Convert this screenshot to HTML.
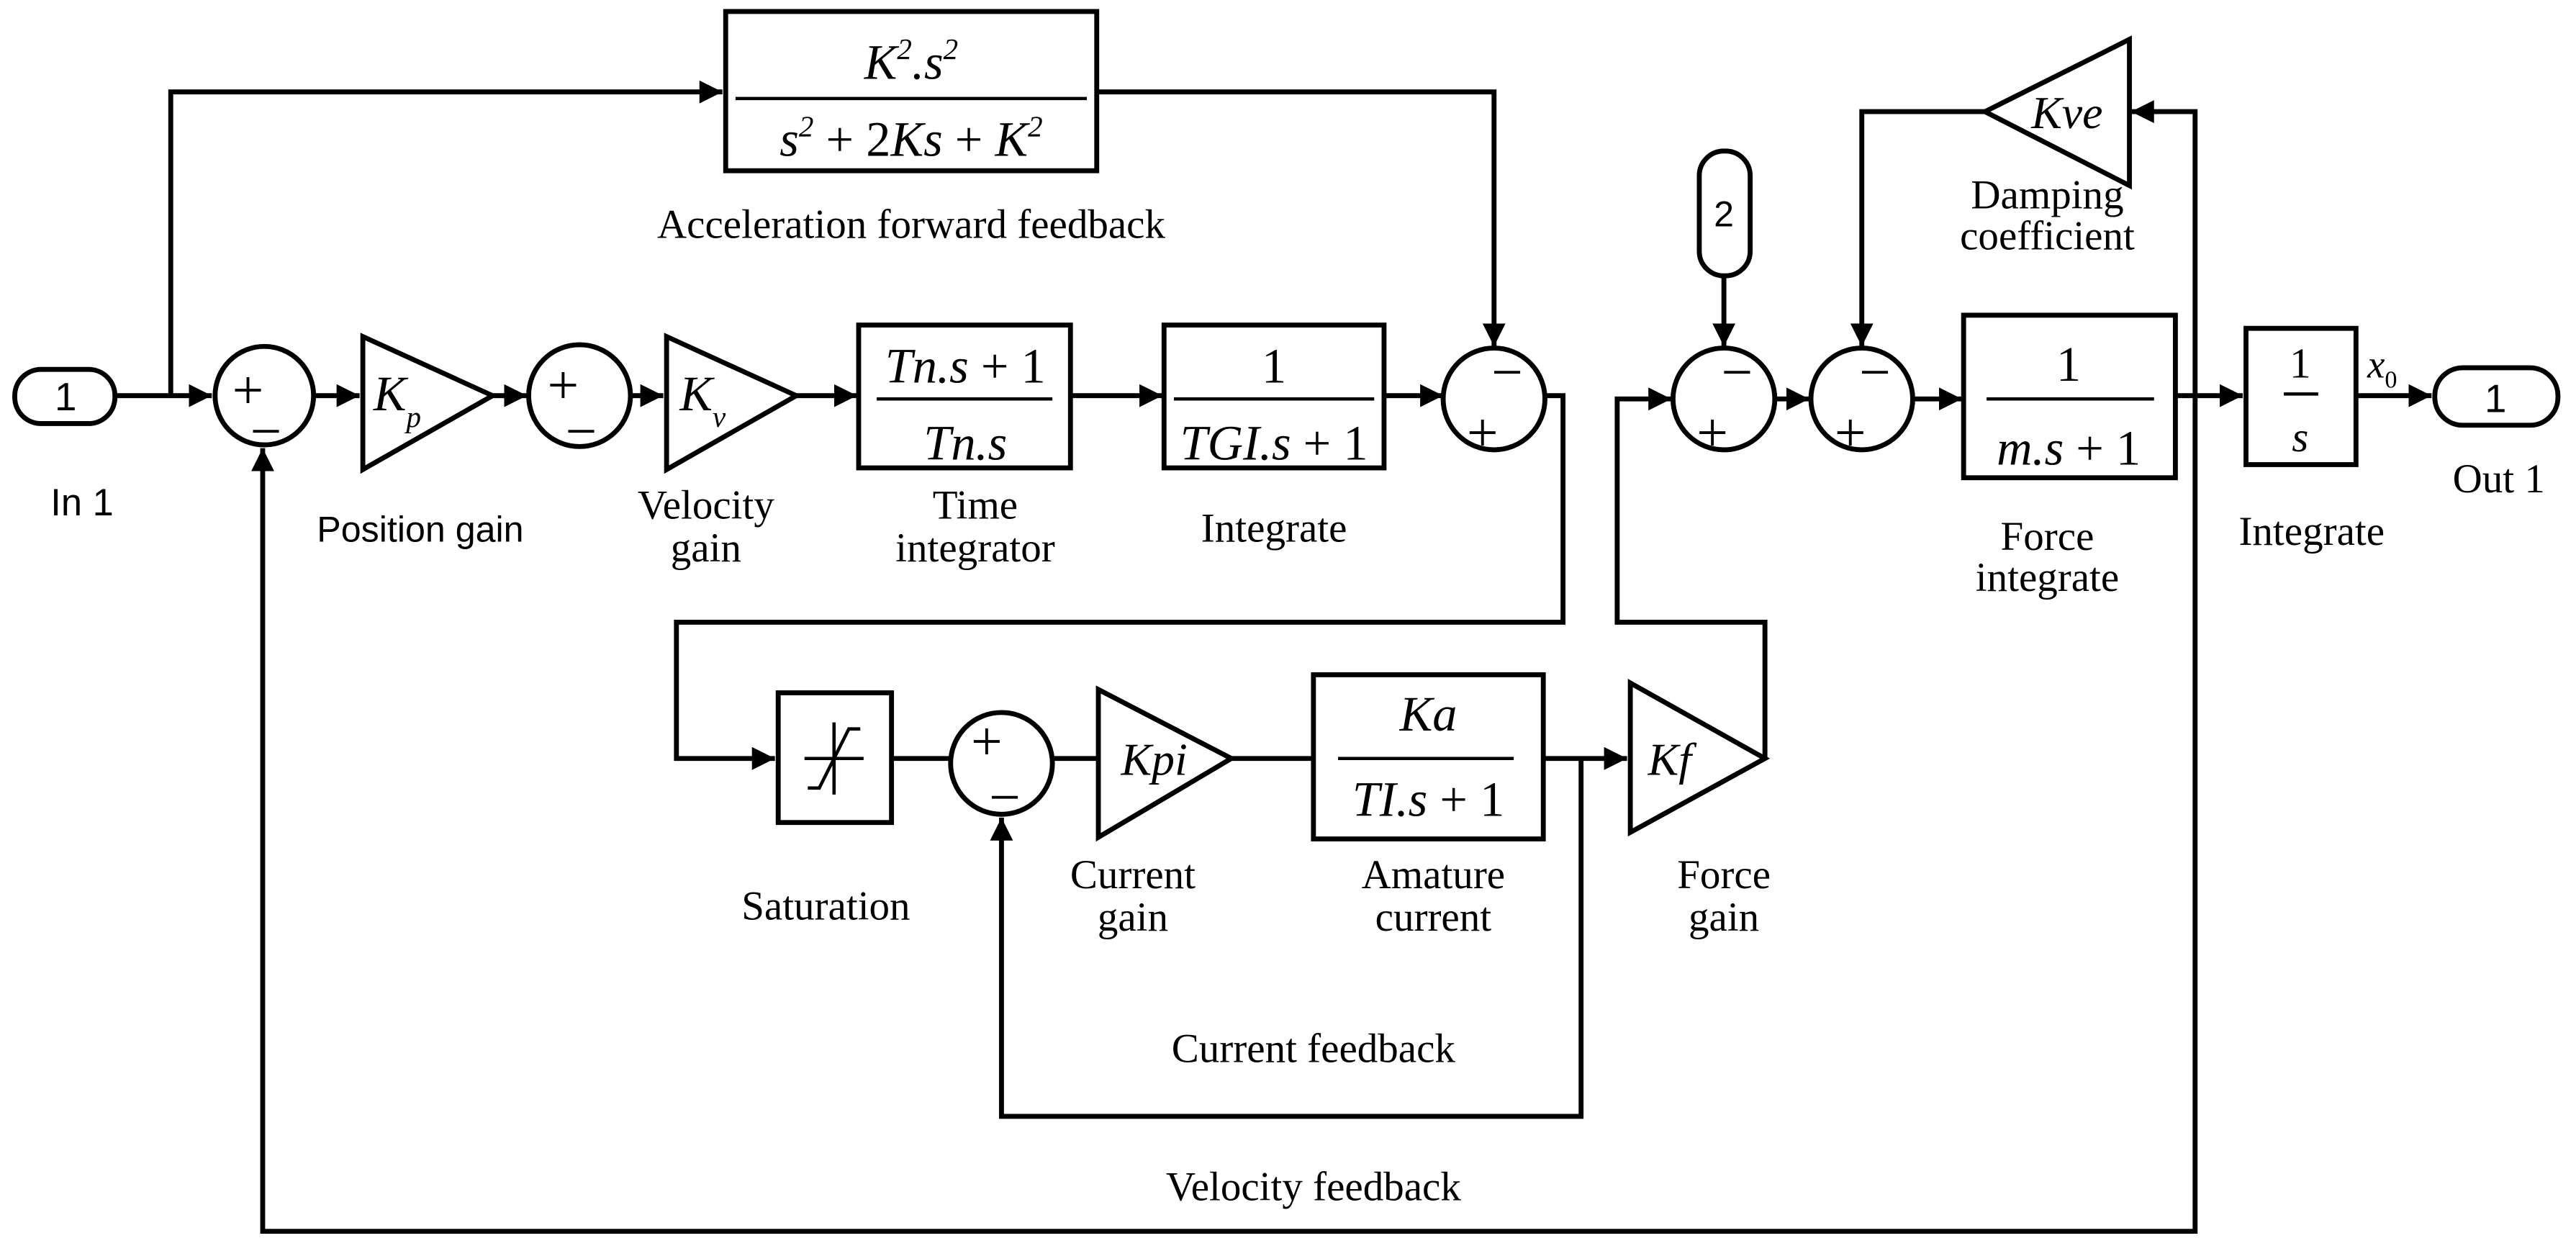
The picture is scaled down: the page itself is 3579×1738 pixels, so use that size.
<!DOCTYPE html>
<html><head><meta charset="utf-8"><style>
html,body{margin:0;padding:0;background:#fff;}
svg{display:block;}
text{font-family:"Liberation Serif",serif;fill:#000;}
.s{font-family:"Liberation Sans",sans-serif;}
.i{font-style:italic;}
</style></head><body>
<svg width="3579" height="1738" viewBox="0 0 1569 762" preserveAspectRatio="none" xmlns="http://www.w3.org/2000/svg">
<defs>
<marker id="a" markerUnits="userSpaceOnUse" markerWidth="16" markerHeight="16" refX="14" refY="7" orient="auto">
<path d="M0,0 L14,7 L0,14 z" fill="#000"/></marker>
</defs>
<g fill="none" stroke="#000" stroke-width="3">
<rect x="9" y="225" width="61" height="33" rx="16"/>
<line x1="70" y1="241" x2="129" y2="241" marker-end="url(#a)"/>
<polyline points="104,241 104,56 440,56" marker-end="url(#a)"/>
<rect x="442" y="7" width="226" height="97"/>
<line x1="448" y1="60" x2="662" y2="60" stroke-width="2"/>
<polyline points="668,56 910,56 910,211" marker-end="url(#a)"/>
<circle cx="161" cy="241" r="30"/>
<line x1="191" y1="241" x2="219" y2="241" marker-end="url(#a)"/>
<polygon points="221,205 300,241 221,286"/>
<line x1="300" y1="241" x2="321" y2="241" marker-end="url(#a)"/>
<circle cx="353" cy="241" r="31"/>
<line x1="384" y1="241" x2="404" y2="241" marker-end="url(#a)"/>
<polygon points="406,205 485,241 406,286"/>
<line x1="485" y1="241" x2="522" y2="241" marker-end="url(#a)"/>
<rect x="523" y="198" width="129" height="87"/>
<line x1="534" y1="243" x2="641" y2="243" stroke-width="2"/>
<line x1="652" y1="241" x2="708" y2="241" marker-end="url(#a)"/>
<rect x="709" y="198" width="134" height="87"/>
<line x1="715" y1="243" x2="837" y2="243" stroke-width="2"/>
<line x1="843" y1="241" x2="879" y2="241" marker-end="url(#a)"/>
<circle cx="910" cy="243" r="31"/>
<polyline points="941,241 952,241 952,379 412,379 412,462 472,462" marker-end="url(#a)"/>
<rect x="474" y="422" width="69" height="79"/>
<line x1="508" y1="440" x2="508" y2="484" stroke-width="2"/>
<polyline points="492,480 499,480 517,444 524,444" stroke-width="2"/>
<line x1="490" y1="462" x2="526" y2="462" stroke-width="2"/>
<line x1="543" y1="462" x2="579" y2="462"/>
<circle cx="610" cy="465" r="31"/>
<line x1="641" y1="462" x2="668" y2="462"/>
<polygon points="669,420 750,462 669,510"/>
<line x1="750" y1="462" x2="800" y2="462"/>
<rect x="800" y="411" width="140" height="100"/>
<line x1="815" y1="462" x2="922" y2="462" stroke-width="2"/>
<line x1="940" y1="462" x2="991" y2="462" marker-end="url(#a)"/>
<polyline points="963,462 963,680 610,680 610,498" marker-end="url(#a)"/>
<polygon points="993,416 1075,462 993,507"/>
<polyline points="1075,462 1075,379 985,379 985,243 1018,243" marker-end="url(#a)"/>
<rect x="1035" y="92" width="31" height="76" rx="15"/>
<line x1="1050" y1="168" x2="1050" y2="211" marker-end="url(#a)"/>
<circle cx="1050" cy="243" r="31"/>
<line x1="1081" y1="243" x2="1102" y2="243" marker-end="url(#a)"/>
<circle cx="1134" cy="243" r="31"/>
<line x1="1165" y1="243" x2="1195" y2="243" marker-end="url(#a)"/>
<rect x="1196" y="192" width="129" height="99"/>
<line x1="1210" y1="243" x2="1312" y2="243" stroke-width="2"/>
<line x1="1325" y1="241" x2="1366" y2="241" marker-end="url(#a)"/>
<rect x="1368" y="200" width="67" height="83"/>
<line x1="1391" y1="240" x2="1412" y2="240" stroke-width="2"/>
<line x1="1435" y1="241" x2="1481" y2="241" marker-end="url(#a)"/>
<rect x="1483" y="224" width="75" height="35" rx="17"/>
<polyline points="1337,241 1337,68 1298,68" marker-end="url(#a)"/>
<polygon points="1297,24 1209,68 1297,113"/>
<polyline points="1209,68 1134,68 1134,211" marker-end="url(#a)"/>
<polyline points="1337,241 1337,750 160,750 160,273" marker-end="url(#a)"/>
</g>
<g font-family="Liberation Sans" font-size="34" text-anchor="middle">
<text x="151" y="249">+</text><text x="162" y="274">−</text>
<text x="343" y="246">+</text><text x="354" y="274">−</text>
<text x="918" y="238">−</text><text x="903" y="275">+</text>
<text x="1058" y="238">−</text><text x="1043" y="275">+</text>
<text x="1142" y="238">−</text><text x="1127" y="275">+</text>
<text x="601" y="463">+</text><text x="612" y="497">−</text>
</g>
<g class="i" font-size="30" text-anchor="middle">
<text x="555" y="48">K<tspan font-size="18" dy="-12">2</tspan><tspan dy="12">.s</tspan><tspan font-size="18" dy="-12">2</tspan></text>
<text x="555" y="95">s<tspan font-size="18" dy="-12">2</tspan><tspan dy="12" font-style="normal"> + 2</tspan>Ks<tspan font-style="normal"> + </tspan>K<tspan font-size="18" dy="-12">2</tspan></text>
<text x="242" y="250">K<tspan font-size="18" dy="10">p</tspan></text>
<text x="428" y="250">K<tspan font-size="18" dy="10">v</tspan></text>
<text x="588" y="233">Tn.s<tspan font-style="normal"> + 1</tspan></text>
<text x="588" y="280">Tn.s</text>
<text x="776" y="233" font-style="normal">1</text>
<text x="776" y="280">TGI.s<tspan font-style="normal"> + 1</tspan></text>
<text x="703" y="472" font-size="28">Kpi</text>
<text x="870" y="445">Ka</text>
<text x="870" y="497">TI.s<tspan font-style="normal"> + 1</tspan></text>
<text x="1017" y="472" font-size="28">Kf</text>
<text x="1259" y="78" font-size="28">Kve</text>
<text x="1260" y="232" font-style="normal">1</text>
<text x="1260" y="283">m.s<tspan font-style="normal"> + 1</tspan></text>
<text x="1401" y="230" font-style="normal" font-size="26">1</text>
<text x="1401" y="275" font-size="26">s</text>
<text x="1451" y="230" font-size="24">x<tspan font-size="15" dy="6" font-style="normal">0</tspan></text>
</g>
<g font-size="24" text-anchor="middle">
<text x="40" y="250" class="s">1</text>
<text x="1520" y="251" class="s">1</text>
<text x="1050" y="138" class="s" font-size="22">2</text>
</g>
<g font-size="25" text-anchor="middle">
<text x="555" y="145">Acceleration forward feedback</text>
<text x="50" y="314" class="s" font-size="23">In 1</text>
<text x="256" y="330" class="s" font-size="22">Position gain</text>
<text x="430" y="316">Velocity</text><text x="430" y="342">gain</text>
<text x="594" y="316">Time</text><text x="594" y="342">integrator</text>
<text x="776" y="330">Integrate</text>
<text x="1247" y="127">Damping</text><text x="1247" y="152">coefficient</text>
<text x="1247" y="335">Force</text><text x="1247" y="360">integrate</text>
<text x="1408" y="332">Integrate</text>
<text x="1522" y="300">Out 1</text>
<text x="503" y="560">Saturation</text>
<text x="690" y="541">Current</text><text x="690" y="567">gain</text>
<text x="873" y="541">Amature</text><text x="873" y="567">current</text>
<text x="1050" y="541">Force</text><text x="1050" y="567">gain</text>
<text x="800" y="647">Current feedback</text>
<text x="800" y="731">Velocity feedback</text>
</g>
</svg>
</body></html>
